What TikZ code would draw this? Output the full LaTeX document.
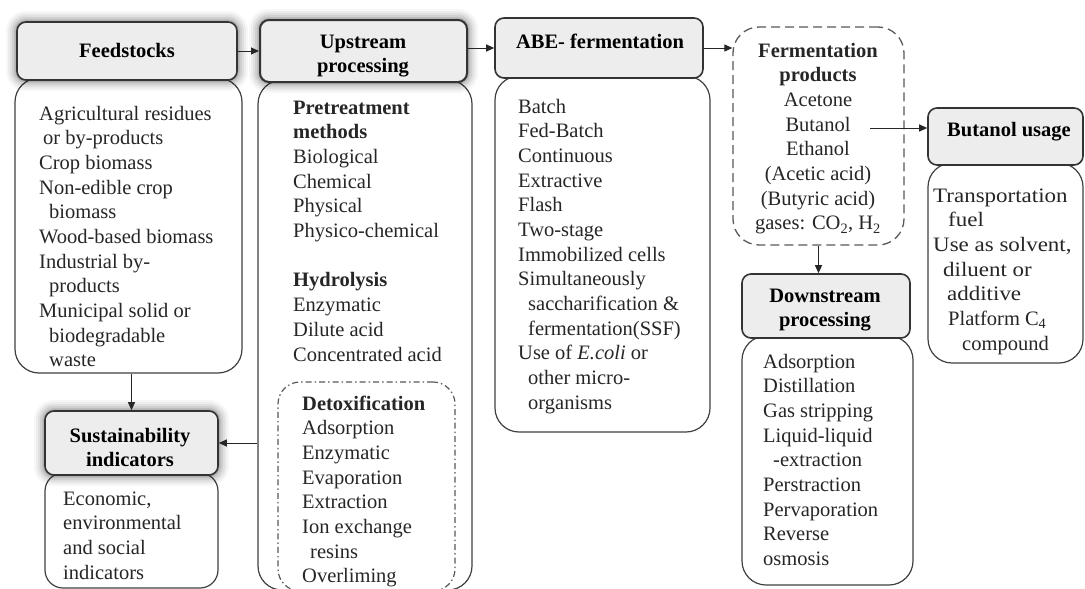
\documentclass[tikz,border=0pt]{standalone}
\usepackage{fontspec}
\setmainfont{Liberation Serif}
\newfontfamily\widefont[FakeStretch=1.12]{Liberation Serif}
\usetikzlibrary{arrows.meta}
\newcommand\fs{\fontsize{20.5}{24.7}\selectfont}
\newcommand\mylines[1]{\begin{tabular}[t]{@{}l@{}}#1\end{tabular}}
\newcommand\mycentered[1]{\begin{tabular}[t]{@{}c@{}}#1\end{tabular}}
\newcommand\ind{\hspace*{10pt}}
\newcommand\glow[4]{\foreach \e/\o in {11/0.03,9/0.04,7/0.05,5/0.07,3/0.09,1.5/0.12}{\fill[black,opacity=\o,rounded corners=9pt+\e pt] (#1-\e,#2-\e) rectangle (#3+\e,#4+\e);}}
\begin{document}
\begin{tikzpicture}[x=1pt,y=-1pt,
  hdr/.style={draw=black!80, line width=1.6pt, fill=black!7, rounded corners=9pt, inner sep=0pt},
  lstbox/.style={draw=black!75, line width=1.2pt, fill=white, rounded corners=24pt, inner sep=0pt},
  dashbox/.style={draw=black!65, line width=1.3pt, dash pattern=on 9pt off 5pt, rounded corners=26pt, inner sep=0pt},
  dotbox/.style={draw=black!65, line width=1.2pt, dash pattern=on 6pt off 3pt on 1.5pt off 3pt, rounded corners=22pt, inner sep=0pt},
  arr/.style={-{Triangle[length=8pt,width=7pt]}, line width=1pt, draw=black!85},
  txt/.style={inner sep=0pt, font=\fs, text=black!85},
  btxt/.style={inner sep=0pt, font=\fs\bfseries, text=black}]
\useasboundingbox (0,0) rectangle (1085,589);
\fill[white] (0,0) rectangle (1085,589);

% list boxes
\node[lstbox, minimum width=227pt, minimum height=295pt] (fl) at (128.5,225.5) {};
\node[lstbox, minimum width=214pt, minimum height=510pt] (ul) at (365,335) {};
\node[dotbox, minimum width=177pt, minimum height=209pt] (dx) at (366.5,486.5) {};
\node[lstbox, minimum width=215pt, minimum height=356pt] (al) at (602.5,254) {};
\node[lstbox, rounded corners=18pt, minimum width=173pt, minimum height=115pt] (sl) at (131.5,530.5) {};
\node[dashbox, minimum width=171pt, minimum height=218pt] (fp) at (818.5,136) {};
\node[lstbox, minimum width=171pt, minimum height=249pt] (dl) at (827.5,460.5) {};
\node[lstbox, minimum width=155pt, minimum height=200pt] (bl) at (1005.5,263) {};

% glows
\glow{17}{22}{237}{80}
\glow{260}{20}{467}{82}
\glow{45}{411}{218}{475}

% headers
\node[hdr, minimum width=220pt, minimum height=58pt] (fh) at (127,51) {};
\node[hdr, line width=2pt, minimum width=207pt, minimum height=62pt] (uh) at (363.5,51) {};
\node[hdr, minimum width=208pt, minimum height=60pt] (ah) at (599,48) {};
\node[hdr, minimum width=173pt, minimum height=64pt] (sh) at (131.5,443) {};
\node[hdr, minimum width=168pt, minimum height=64pt] (dh) at (826,306) {};
\node[hdr, minimum width=155pt, minimum height=57pt] (bh) at (1005.5,136.5) {};

% header texts
\node[btxt, anchor=base] (fht) at (127,57) {Feedstocks};
\node[btxt, anchor=base] (uht) at (363,48) {\mycentered{Upstream\\processing}};
\node[btxt, anchor=base] (aht) at (600,48) {ABE- fermentation};
\node[btxt, anchor=base] (sht) at (130,442) {\mycentered{Sustainability\\indicators}};
\node[btxt, anchor=base] (dht) at (825,302) {\mycentered{Downstream\\processing}};
\node[btxt, anchor=base] (bht) at (1009,136) {Butanol usage};

% list texts
\node[txt, anchor=base west] (flt) at (39,120) {\mylines{Agricultural residues\\\hspace*{4pt}or by-products\\Crop biomass\\Non-edible crop\\\ind biomass\\Wood-based biomass\\Industrial by-\\\ind products\\Municipal solid or\\\ind biodegradable\\\ind waste}};
\node[txt, anchor=base west] (ult) at (293,114) {\mylines{\textbf{Pretreatment}\\\textbf{methods}\\Biological\\Chemical\\Physical\\Physico-chemical\\ \\\textbf{Hydrolysis}\\Enzymatic\\Dilute acid\\Concentrated acid}};
\node[txt, anchor=base west] (dxt) at (302,410) {\mylines{\textbf{Detoxification}\\Adsorption\\Enzymatic\\Evaporation\\Extraction\\Ion exchange\\\hspace*{8pt}resins\\Overliming}};
\node[txt, anchor=base west] (alt) at (518,113) {\mylines{Batch\\Fed-Batch\\Continuous\\Extractive\\Flash\\Two-stage\\Immobilized cells\\Simultaneously\\\ind saccharification \&\\\ind fermentation(SSF)\\Use of \textit{E.coli} or\\\ind other micro-\\\ind organisms}};
\node[txt, anchor=base west] (slt) at (63,505) {\mylines{Economic,\\environmental\\and social\\indicators}};
\node[txt, anchor=base] (fpt) at (818,57) {\mycentered{\textbf{Fermentation}\\\textbf{products}\\Acetone\\Butanol\\Ethanol\\(Acetic acid)\\(Butyric acid)\\gases: CO\textsubscript{2}, H\textsubscript{2}}};
\node[txt, anchor=base west] (dlt) at (763,368) {\mylines{Adsorption\\Distillation\\Gas stripping\\Liquid-liquid\\\ind -extraction\\Perstraction\\Pervaporation\\Reverse\\osmosis}};
\node[txt, anchor=base west] (blt) at (933,202) {\mylines{{\widefont Transportation}\\\hspace*{15pt}{\widefont fuel}\\{\widefont Use as solvent,}\\\ind{\widefont diluent or}\\\hspace*{14pt}{\widefont additive}\\\hspace*{15pt}Platform C\textsubscript{4}\\\hspace*{29pt}compound}};

% connectors
\coordinate (bstart) at (870,128);
\draw[arr] (fh.east) -- (uh.west);
\draw[arr] (uh.east |- ah.center) -- (ah.west);
\draw[arr] (ah.east) -- (ah.east -| fp.west);
\draw[arr] (fp.south) -- (fp.south |- dh.north);
\draw[arr] (bstart) -- (bstart -| bh.west);
\draw[arr] (fl.south -| sh.north) -- (sh.north);
\draw[arr] (sh.east -| ul.west) -- (sh.east);
\end{tikzpicture}
\end{document}
